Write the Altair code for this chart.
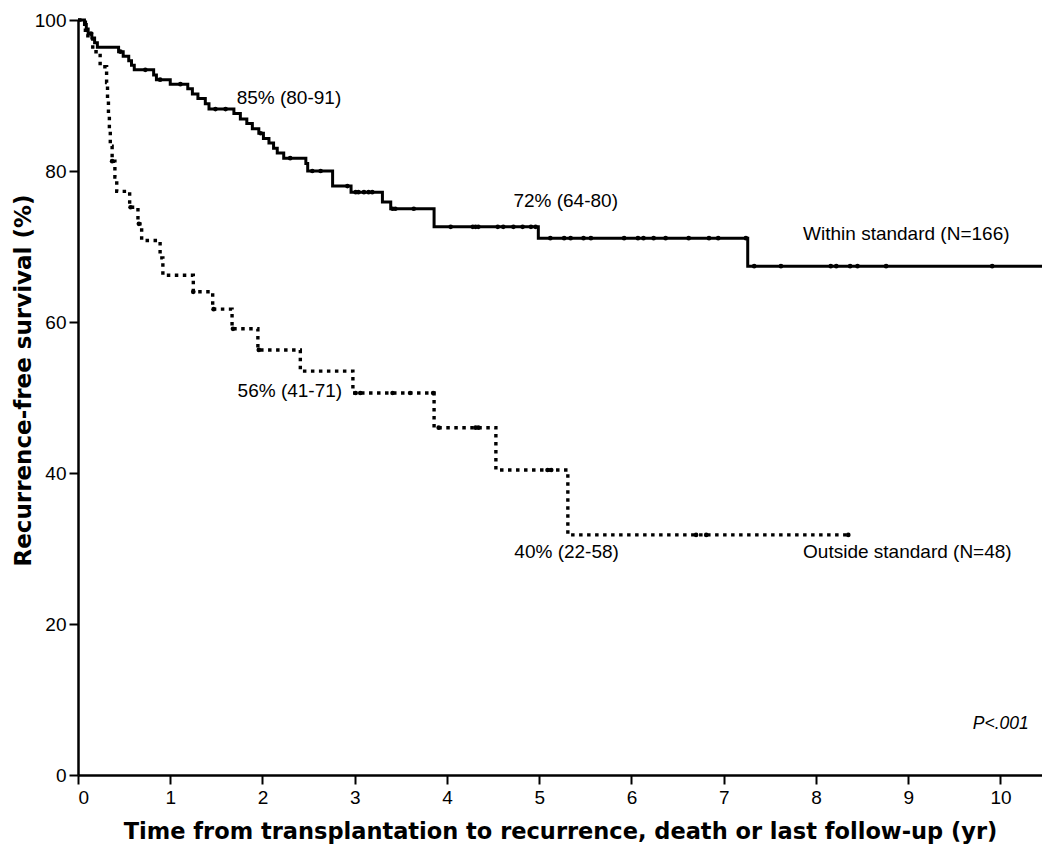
import altair as alt
import pandas as pd

# ---- Kaplan-Meier step data (years, %) ----
within_time = [0, 0.07, 0.09, 0.11, 0.15, 0.18, 0.21, 0.44, 0.49, 0.55, 0.58, 0.61, 0.82, 0.85,
               1.00, 1.19, 1.24, 1.30, 1.38, 1.42, 1.69, 1.76, 1.83, 1.89, 1.96, 2.01, 2.07,
               2.12, 2.16, 2.23, 2.47, 2.49, 2.76, 2.96, 3.30, 3.39, 3.86, 4.99, 7.26, 10.45]
within_surv = [100, 99.4, 98.8, 98.2, 97.6, 97.0, 96.4, 95.8, 95.2, 94.6, 94.0, 93.4, 92.7, 92.1,
               91.5, 90.9, 90.2, 89.6, 88.9, 88.2, 87.6, 86.9, 86.3, 85.6, 85.0, 84.3, 83.7,
               83.0, 82.4, 81.7, 81.0, 80.0, 78.0, 77.2, 75.9, 75.0, 72.6, 71.1, 67.4, 67.4]
within_censor = [0.14, 0.46, 0.73, 0.89, 1.11, 1.49, 1.60, 1.98, 2.30, 2.54, 2.63, 2.92, 3.01,
                 3.04, 3.10, 3.15, 3.19, 3.41, 3.44, 3.64, 4.04, 4.28, 4.31, 4.34, 4.55, 4.61,
                 4.72, 4.82, 4.91, 4.96, 5.12, 5.27, 5.34, 5.48, 5.56, 5.92, 6.07, 6.13, 6.24,
                 6.37, 6.62, 6.84, 6.94, 7.24, 7.33, 7.62, 8.16, 8.22, 8.37, 8.45, 8.76, 9.91]

outside_time = [0, 0.08, 0.16, 0.24, 0.31, 0.32, 0.33, 0.34, 0.35, 0.37, 0.40, 0.42, 0.56, 0.65,
                0.69, 0.89, 0.92, 1.25, 1.46, 1.67, 1.95, 2.41, 2.98, 3.86, 4.53, 5.31, 8.35]
outside_surv = [100, 97.9, 95.8, 93.8, 91.7, 89.6, 87.5, 85.4, 83.3, 81.3, 79.2, 77.3, 75.2, 73.0,
                70.8, 68.5, 66.2, 64.0, 61.7, 59.1, 56.3, 53.5, 50.6, 46.0, 40.4, 31.8, 31.8]
outside_censor = [0.37, 0.57, 0.66, 1.25, 1.47, 1.68, 1.96, 3.01, 3.06, 3.41, 3.60, 3.85, 3.91,
                  4.31, 4.34, 5.09, 5.13, 6.70, 6.81, 8.35]

# annotation labels (text, x in years, y in %)
label_text = ["85% (80-91)", "72% (64-80)", "Within standard (N=166)",
              "56% (41-71)", "40% (22-58)", "Outside standard (N=48)"]
label_x = [1.72, 4.72, 7.86, 1.73, 4.73, 7.86]
label_y = [89.7, 76.0, 71.7, 50.8, 29.6, 29.6]
pvalue_text = ["P<.001"]
pvalue_x = [9.70]
pvalue_y = [6.8]

x_ticks = [0, 1, 2, 3, 4, 5, 6, 7, 8, 9, 10]
y_ticks = [0, 20, 40, 60, 80, 100]


def level_at(times, surv, t):
    val = surv[0]
    for ti, si in zip(times, surv):
        if ti <= t:
            val = si
    return val


within_df = pd.DataFrame({"t": within_time, "s": within_surv})
outside_df = pd.DataFrame({"t": outside_time, "s": outside_surv})
within_c = pd.DataFrame({"t": within_censor,
                         "s": [level_at(within_time, within_surv, t) for t in within_censor]})
outside_c = pd.DataFrame({"t": outside_censor,
                          "s": [level_at(outside_time, outside_surv, t) for t in outside_censor]})
labels_df = pd.DataFrame({"label": label_text, "t": label_x, "s": label_y})
p_df = pd.DataFrame({"label": pvalue_text, "t": pvalue_x, "s": pvalue_y})

xscale = alt.Scale(domain=[0, 10.45], nice=False, zero=False)
yscale = alt.Scale(domain=[0, 100], nice=False)

xenc = alt.X("t:Q", scale=xscale,
             axis=alt.Axis(values=x_ticks, format="d",
                           title="Time from transplantation to recurrence, death or last follow-up (yr)",
                           titleFont="DejaVu Sans", titleFontWeight="bold", titleFontSize=22.5,
                           titleColor="black", titlePadding=13, labelPadding=4))
yenc = alt.Y("s:Q", scale=yscale,
             axis=alt.Axis(values=y_ticks, format="d",
                           title="Recurrence-free survival (%)",
                           titleFont="DejaVu Sans", titleFontWeight="bold", titleFontSize=23,
                           titleColor="black", titleX=-43, titleY=360, labelPadding=3))

solid = alt.Chart(within_df).mark_line(
    interpolate="step-after", color="black", strokeWidth=3
).encode(x=xenc, y=yenc)

dotted = alt.Chart(outside_df).mark_line(
    interpolate="step-after", color="black", strokeWidth=3.4, strokeDash=[3.5, 4.5], strokeCap="butt"
).encode(x=xenc, y=yenc)

solid_c = alt.Chart(within_c).mark_point(
    filled=True, shape="circle", size=22, color="black", opacity=1
).encode(x=xenc, y=yenc)

dotted_c = alt.Chart(outside_c).mark_point(
    filled=True, shape="circle", size=22, color="black", opacity=1
).encode(x=xenc, y=yenc)

texts = alt.Chart(labels_df).mark_text(
    align="left", baseline="middle", font="Liberation Sans", fontSize=19, color="black"
).encode(x=xenc, y=yenc, text="label:N")

ptext = alt.Chart(p_df).mark_text(
    align="left", baseline="middle", font="Liberation Sans", fontSize=17.5,
    fontStyle="italic", color="black"
).encode(x=xenc, y=yenc, text="label:N")

chart = alt.layer(solid, dotted, solid_c, dotted_c, texts, ptext).properties(
    width=964, height=755,
    autosize=alt.AutoSizeParams(type="none"),
    padding={"left": 70, "top": 12, "right": 0, "bottom": 70},
    background="white",
).configure_view(stroke=None).configure_axis(
    grid=False, domainColor="black", domainWidth=2.5, tickColor="black", tickWidth=2,
    tickSize=9, labelFont="Liberation Sans", labelFontSize=19, labelColor="black",
)

chart.save("out.html", embed_options={"renderer": "svg", "actions": False})
